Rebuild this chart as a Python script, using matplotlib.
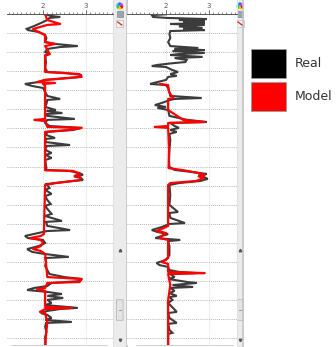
import matplotlib
matplotlib.use("Agg")
import matplotlib.pyplot as plt
from matplotlib.patches import Rectangle, Wedge, FancyBboxPatch, Patch

# well log panel: two tracks, measured log vs. model log (depth in m from top of section)
t1_real_depth = [0, 0.9, 1.4, 1.9, 3.0, 4.6, 6.1, 7.7, 8.3, 9.3, 10.9, 12.5, 14.6, 15.6, 16.7, 17.2,
                 18.2, 19.8, 20.9, 21.9, 25.1, 28.2, 30.3, 30.8, 31.9, 32.9, 34.0, 34.5, 35.6, 36.6,
                 37.7, 38.7, 40.8, 42.9, 44.5, 45.0, 47.1, 48.7, 50.3, 50.8, 51.9, 52.4, 53.4, 55.0,
                 55.5, 57.1, 58.7, 59.7, 60.8, 61.8, 63.4, 65.0, 65.5, 67.1, 68.7, 69.2, 71.3, 72.9,
                 73.9, 75.5, 76.6, 79.2, 81.8, 82.3, 83.4, 84.4, 85.2, 86.0, 87.1, 88.1, 89.2, 91.3,
                 92.3, 94.4, 95.5, 97.6, 99.7, 100.7, 102.8, 104.9, 106.0, 108.6, 109.1, 111.2, 113.4,
                 113.9, 114.9, 116.5, 117.6, 118.6, 120.2, 121.8, 123.4, 124.9, 126.0, 127.5, 128.1,
                 130.2, 132.3, 134.4, 136.5, 138.1, 139.1, 140.2, 141.2, 142.8, 143.8, 144.9, 145.9,
                 147.0, 148.0, 149.1, 150.1, 151.7, 152.8, 154.3, 154.9, 155.9, 157.0, 158.0, 159.6,
                 160.6, 161.7, 162.2, 164.3, 166.9, 169.6, 173.8]
t1_real_value = [2.05, 2.2, 2.4, 2.15, 2.1, 1.95, 1.8, 1.62, 1.65, 1.9, 2.05, 2.08, 2.05, 2.3, 2.81, 2.4,
                 2.1, 2.05, 2.15, 2.05, 2.07, 2.05, 2.1, 2.5, 2.9, 2.85, 2.3, 2.05, 1.9, 1.58,
                 1.75, 2.0, 2.05, 2.1, 2.4, 2.1, 2.08, 2.05, 2.3, 2.08, 2.45, 2.08, 2.1, 2.74,
                 2.1, 2.05, 2.15, 2.9, 2.7, 2.1, 2.07, 2.28, 2.07, 2.05, 2.63, 2.07, 2.06, 2.2,
                 2.06, 2.2, 2.05, 2.07, 2.08, 2.6, 2.85, 2.93, 2.72, 2.88, 2.93, 2.5, 2.08, 2.15,
                 2.05, 2.2, 2.05, 2.1, 2.18, 2.05, 2.12, 2.2, 2.05, 2.44, 2.07, 2.1, 2.63,
                 2.1, 1.9, 1.58, 1.65, 2.0, 2.05, 1.9, 1.63, 1.75, 2.05, 2.6, 2.05,
                 2.07, 2.05, 2.1, 2.15, 2.5, 2.9, 2.85, 2.2, 2.1, 1.8, 1.63, 2.1,
                 2.44, 2.1, 2.47, 2.1, 2.2, 2.05, 2.81, 2.4, 2.1, 1.95, 2.1, 2.2,
                 2.05, 2.67, 2.07, 2.05, 2.08, 2.05, 2.06]

t1_model_depth = [0, 3.0, 5.1, 5.6, 7.7, 8.8, 10.9, 14.6, 15.6, 16.7, 20.9, 21.4, 30.3, 31.4, 32.9,
                  33.5, 34.5, 35.6, 36.1, 36.6, 37.7, 55.0, 55.5, 56.1, 59.2, 59.7, 60.8, 61.8,
                  82.0, 82.3, 83.9, 84.8, 85.8, 87.1, 88.7, 89.7, 115.5, 116.5, 117.6, 118.6,
                  120.2, 121.8, 123.4, 124.4, 126.0, 138.1, 139.1, 140.7, 141.2, 143.8, 144.4,
                  145.4, 153.8, 154.3, 154.9, 156.4, 157.0, 161.7, 173.8]
t1_model_value = [2.05, 2.1, 2.4, 2.1, 1.77, 1.85, 2.05, 2.05, 2.28, 2.05, 2.16, 2.05, 2.05, 2.85, 2.9,
                  2.6, 2.05, 1.86, 2.28, 2.0, 2.05, 2.05, 1.8, 2.05, 2.1, 2.9, 2.6, 2.05,
                  2.05, 2.7, 2.86, 2.74, 2.88, 2.86, 2.3, 2.05, 2.02, 1.95, 1.7, 1.95,
                  2.0, 1.95, 1.77, 1.95, 2.05, 2.1, 2.9, 2.85, 2.1, 2.05, 1.86,
                  2.05, 2.05, 2.67, 2.05, 1.93, 2.05, 2.1, 2.05]

t2_real_depth = [0, 0.4, 1.4, 1.9, 2.5, 3.0, 3.5, 4.0, 4.6, 5.1, 5.6, 6.4, 7.2, 7.7, 8.3, 8.8, 10.4,
                 12.5, 14.6, 16.7, 17.7, 18.2, 18.8, 19.3, 20.3, 20.9, 21.4, 22.4, 23.0, 24.0, 25.1,
                 25.6, 26.6, 27.2, 27.7, 29.3, 30.3, 31.4, 32.4, 32.9, 34.5, 35.6, 36.6, 37.2, 38.7,
                 40.8, 42.9, 44.0, 44.5, 45.0, 46.6, 47.7, 48.7, 49.2, 50.3, 53.4, 55.5, 56.6, 57.1,
                 58.7, 59.7, 60.8, 61.8, 62.9, 66.1, 71.3, 76.6, 80.2, 81.8, 82.9, 83.9, 84.7, 85.5,
                 86.5, 87.6, 88.7, 89.7, 95.0, 100.2, 103.9, 104.4, 107.0, 109.7, 110.2, 111.8, 113.4,
                 114.4, 115.5, 116.5, 117.6, 118.6, 119.2, 121.8, 126.5, 129.1, 130.7, 131.8, 132.8,
                 134.4, 135.4, 136.0, 136.5, 138.1, 139.1, 140.7, 141.2, 142.3, 143.3, 143.8, 145.4,
                 146.5, 148.0, 148.6, 150.1, 151.7, 156.4, 157.0, 159.6, 162.2, 162.7, 165.9, 167.4,
                 168.0, 173.8]
t2_real_value = [2.0, 1.67, 1.7, 2.02, 2.95, 2.3, 2.9, 2.4, 2.9, 2.1, 2.9, 2.3, 2.85, 2.4, 2.9, 2.1, 2.08,
                 2.1, 2.05, 2.1, 2.75, 2.2, 2.9, 2.15, 2.9, 2.3, 2.1, 2.85, 2.2, 2.48, 2.45,
                 2.2, 1.8, 1.67, 2.0, 2.15, 2.28, 2.1, 2.25, 2.05, 2.0, 1.8, 1.63, 2.0, 2.05,
                 2.08, 2.1, 2.83, 2.2, 2.1, 1.9, 1.74, 2.0, 1.8, 2.05, 2.08, 2.5, 2.95, 2.1,
                 2.2, 2.3, 2.1, 2.25, 2.08, 2.1, 2.08, 2.07, 2.08, 2.2, 2.6, 2.95, 2.75, 2.88,
                 2.97, 2.8, 2.3, 2.08, 2.1, 2.08, 2.28, 2.08, 2.1, 2.44, 2.08, 1.9, 1.67,
                 1.8, 2.05, 1.9, 1.75, 2.33, 2.05, 2.08, 2.08, 2.0, 1.78, 1.85, 2.05,
                 2.08, 2.3, 2.71, 2.1, 2.2, 2.05, 2.5, 2.71, 2.15, 2.63, 2.1, 2.2,
                 2.08, 2.25, 2.08, 2.15, 2.05, 2.25, 2.05, 2.08, 2.25, 2.05, 2.08, 2.15,
                 2.05, 2.05]

t2_model_depth = [36.6, 37.2, 40.8, 44.0, 44.5, 50.3, 55.5, 56.6, 57.1, 58.7, 59.2, 59.7, 71.3, 80.8,
                  82.3, 83.4, 84.4, 85.2, 86.0, 87.6, 88.7, 89.7, 111.2, 112.8, 113.9, 114.9, 116.5,
                  117.6, 118.6, 128.1, 130.2, 131.2, 135.4, 136.0, 136.5, 142.3, 150.1, 173.8]
t2_model_value = [1.86, 2.05, 2.07, 2.17, 2.05, 2.05, 2.4, 2.9, 2.05, 2.05, 1.74, 2.05, 2.07, 2.06,
                  2.5, 2.75, 2.9, 2.76, 2.88, 2.7, 2.1, 2.05, 2.05, 1.9, 1.78, 2.0, 1.9,
                  1.86, 2.05, 2.05, 1.9, 2.05, 2.05, 2.9, 2.05, 2.1, 2.05, 2.05]

series_labels = ["Real", "Model"]
series_colors = ["#3c3c3c", "#ff0000"]
legend_colors = ["#000000", "#ff0000"]

W, H = 336, 347


def px_box(x0, y0, x1, y1):
    return [x0 / W, 1 - y1 / H, (x1 - x0) / W, (y1 - y0) / H]


fig = plt.figure(figsize=(W / 100, H / 100), dpi=100)

# window chrome (side toolbars, scroll elements) drawn in pixel coordinates
ui = fig.add_axes([0, 0, 1, 1], zorder=0)
ui.set_xlim(0, W)
ui.set_ylim(H, 0)
ui.axis("off")

for sx0, sx1 in [(113, 126.5), (237, 243)]:
    ui.add_patch(Rectangle((sx0, 0), sx1 - sx0, H, facecolor="#ececec", edgecolor="none"))
    ui.plot([sx1, sx1], [0, H], color="#c4c4c4", lw=1.2)
    ui.plot([sx0, sx0], [0, H], color="#e0e0e0", lw=0.8)
    cx = (sx0 + sx1) / 2 if sx1 - sx0 > 8 else sx0 + 3
    hues = ["#ff0000", "#ffcc00", "#33cc33", "#00cccc", "#3355ff", "#cc33cc"]
    for i, c in enumerate(hues):
        ui.add_patch(Wedge((cx, 6), 3.5, i * 60, (i + 1) * 60, facecolor=c, edgecolor="none"))
    ui.add_patch(Rectangle((cx - 3, 11), 6, 6, facecolor="#9aa6b4", edgecolor="#7a7a7a", lw=0.4))
    ui.add_patch(Rectangle((cx - 3.5, 20), 7, 7, facecolor="#f4f4f4", edgecolor="#b0b0b0", lw=0.4))
    ui.plot([cx - 2, cx + 2], [22, 25], color="#e03030", lw=1.0)
    ui.plot(cx, 250, marker="^", ms=1.8, color="#555555")
    ui.plot(cx, 340, marker="v", ms=1.8, color="#555555")
    ui.add_patch(FancyBboxPatch((cx - 3, 300), 6, 20, boxstyle="round,pad=0.3",
                                facecolor="#e4e4e4", edgecolor="#b8b8b8", lw=0.6))
    ui.plot([cx - 1, cx + 1], [310, 310], color="#888888", lw=0.6)

ui.plot([12, 107], [344.5, 344.5], color="#c8c8c8", lw=1.2)
ui.plot([137, 233], [344.5, 344.5], color="#c8c8c8", lw=1.2)

tracks = [
    (px_box(7, 14.3, 113, 345), (1.163, 3.628),
     t1_real_depth, t1_real_value, t1_model_depth, t1_model_value),
    (px_box(127, 14.3, 237, 345), (1.094, 3.65),
     t2_real_depth, t2_real_value, t2_model_depth, t2_model_value),
]

for rect, xlim, rd, rv, md, mv in tracks:
    ax = fig.add_axes(rect, zorder=1)
    ax.plot(rv, rd, color=series_colors[0], lw=1.5, solid_joinstyle="miter")
    ax.plot(mv, md, color=series_colors[1], lw=1.6)
    ax.set_xlim(*xlim)
    ax.set_ylim(173.8, 0)

    # top ruler
    ax.xaxis.tick_top()
    ax.set_xticks([2, 3])
    ax.set_xticks([v / 10 for v in range(12, 37)], minor=True)
    ax.tick_params(axis="x", which="major", length=3, width=0.6, colors="#555555",
                   labelsize=5, pad=1)
    ax.tick_params(axis="x", which="minor", length=1.8, width=0.5, colors="#666666")
    ax.set_yticks(range(10, 171, 10))
    ax.tick_params(axis="y", length=0, labelleft=False)
    ax.grid(axis="y", color="#9a9a9a", ls=(0, (1, 1.5)), lw=0.6)
    ax.grid(axis="x", which="major", color="#cfcfcf", ls=(0, (1, 1.5)), lw=0.6)
    ax.set_axisbelow(True)
    for side in ["left", "right", "bottom"]:
        ax.spines[side].set_visible(False)
    ax.spines["top"].set_color("#555555")
    ax.spines["top"].set_linewidth(0.7)

# big square swatches
handles = [Patch(facecolor=c, edgecolor="#9a9a9a", lw=0.6) for c in legend_colors]
fig.legend(handles, series_labels, loc="upper left", bbox_to_anchor=(251 / W, 1 - 49 / H),
           frameon=False, borderpad=0, borderaxespad=0, fontsize=9,
           handlelength=2.8, handleheight=3.19, labelspacing=0.32, handletextpad=0.7,
           labelcolor="#333333")

fig.savefig("out.png", dpi=100)
